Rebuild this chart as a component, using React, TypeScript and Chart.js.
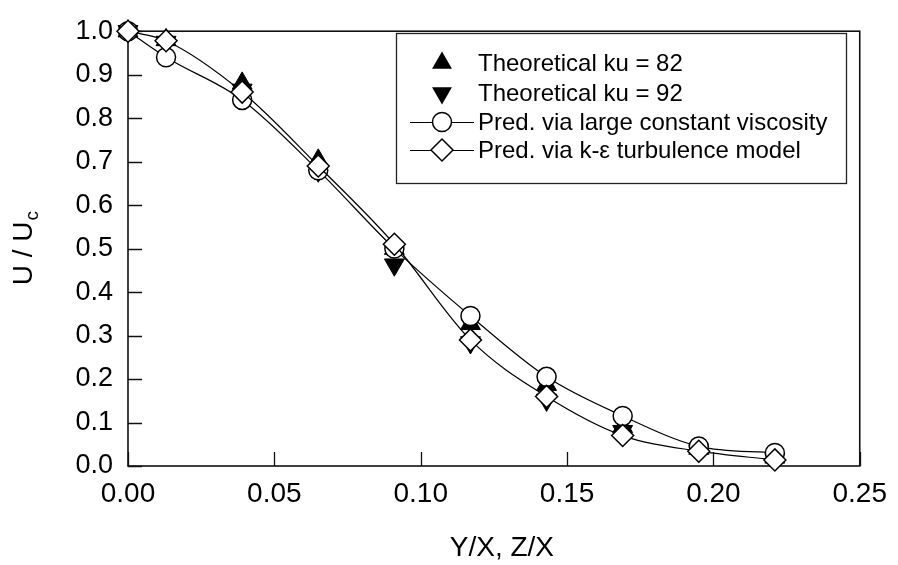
import React, { useEffect, useRef } from 'react';
import { Chart, registerables } from 'chart.js';

Chart.register(...registerables);

// ---- data ----
const xRatio = [0, 0.013, 0.039, 0.065, 0.091, 0.117, 0.143, 0.169, 0.195, 0.221];
const theoKu82 = [1.0, 0.98, 0.88, 0.703, 0.5, 0.327, 0.187, 0.09, 0.04, 0.02];
const theoKu92 = [1.0, 0.975, 0.865, 0.679, 0.463, 0.284, 0.152, 0.08, 0.035, 0.015];
const predConstVisc = [1.0, 0.94, 0.842, 0.68, 0.5, 0.345, 0.205, 0.115, 0.045, 0.03];
const predKEps = [1.0, 0.978, 0.86, 0.69, 0.51, 0.29, 0.16, 0.07, 0.034, 0.014];
const xTicks = [0, 0.05, 0.1, 0.15, 0.2, 0.25];
const yTicks = [0, 0.1, 0.2, 0.3, 0.4, 0.5, 0.6, 0.7, 0.8, 0.9, 1.0];
const seriesLabels = [
  'Theoretical ku = 82',
  'Theoretical ku = 92',
  'Pred. via large constant viscosity',
  'Pred. via k-\u03b5 turbulence model',
];
const xTitle = 'Y/X, Z/X';
const yTitleMain = 'U / U';
const yTitleSub = 'c';

const FONT = "'Liberation Sans', Arial, Helvetica, sans-serif";

const framePlugin = {
  id: 'frameTicks',
  beforeDatasetsDraw(chart: any) {
    const { ctx, chartArea: a, scales } = chart;
    ctx.save();
    ctx.strokeStyle = '#111';
    ctx.lineWidth = 1.3;
    ctx.beginPath();
    for (const v of xTicks) {
      const px = Math.round(scales.x.getPixelForValue(v)) + 0.5;
      ctx.moveTo(px, a.bottom);
      ctx.lineTo(px, a.bottom - 14);
    }
    for (const v of yTicks) {
      const py = Math.round(scales.y.getPixelForValue(v)) + 0.5;
      ctx.moveTo(a.left, py);
      ctx.lineTo(a.left + 14, py);
    }
    ctx.stroke();
    ctx.lineWidth = 1.6;
    ctx.strokeRect(a.left, a.top, a.right - a.left, a.bottom - a.top);
    ctx.restore();
  },
  afterDraw(chart: any) {
    const { ctx, chartArea: a } = chart;
    ctx.save();
    ctx.fillStyle = '#000';
    ctx.font = `28px ${FONT}`;
    ctx.textAlign = 'center';
    ctx.textBaseline = 'middle';
    ctx.fillText(xTitle, (a.left + a.right) / 2 + 8, 548);

    ctx.save();
    ctx.translate(24, (a.top + a.bottom) / 2);
    ctx.rotate(-Math.PI / 2);
    ctx.font = `28px ${FONT}`;
    const wMain = ctx.measureText(yTitleMain).width;
    ctx.font = `19px ${FONT}`;
    const wSub = ctx.measureText(yTitleSub).width;
    const start = -(wMain + wSub) / 2;
    ctx.textAlign = 'left';
    ctx.textBaseline = 'middle';
    ctx.font = `28px ${FONT}`;
    ctx.fillText(yTitleMain, start, 0);
    ctx.font = `19px ${FONT}`;
    ctx.fillText(yTitleSub, start + wMain + 1, 9);
    ctx.restore();

    // legend
    const bx = 396, by = 33, bw = 450, bh = 150;
    ctx.fillStyle = '#fff';
    ctx.fillRect(bx, by, bw, bh);
    ctx.strokeStyle = '#222';
    ctx.lineWidth = 1.3;
    ctx.strokeRect(bx + 0.5, by + 0.5, bw, bh);
    const rows = [63, 93, 122, 150];
    const mx = 442;
    rows.forEach((ry, i) => {
      ctx.save();
      ctx.strokeStyle = '#000';
      ctx.fillStyle = '#000';
      if (i === 0 || i === 1) {
        const r = 11.5;
        const dir = i === 0 ? 1 : -1;
        ctx.beginPath();
        ctx.moveTo(mx, ry - dir * r);
        ctx.lineTo(mx + r * 0.866, ry + dir * r * 0.5);
        ctx.lineTo(mx - r * 0.866, ry + dir * r * 0.5);
        ctx.closePath();
        ctx.fill();
      } else {
        ctx.lineWidth = 1.2;
        ctx.beginPath();
        ctx.moveTo(410, ry + 0.5);
        ctx.lineTo(474, ry + 0.5);
        ctx.stroke();
        ctx.fillStyle = '#fff';
        ctx.lineWidth = 1.5;
        ctx.beginPath();
        if (i === 2) {
          ctx.arc(mx, ry, 9.5, 0, Math.PI * 2);
        } else {
          const r = 11;
          ctx.moveTo(mx - r, ry);
          ctx.lineTo(mx, ry - r);
          ctx.lineTo(mx + r, ry);
          ctx.lineTo(mx, ry + r);
          ctx.closePath();
        }
        ctx.fill();
        ctx.stroke();
      }
      ctx.restore();
      ctx.fillStyle = '#000';
      ctx.font = `24px ${FONT}`;
      ctx.textAlign = 'left';
      ctx.textBaseline = 'middle';
      ctx.fillText(seriesLabels[i], 478, ry + 1);
    });
    ctx.restore();
  },
};

function pts(ys: number[]) {
  return xRatio.map((x, i) => ({ x, y: ys[i] }));
}

export default function App() {
  const ref = useRef<HTMLCanvasElement | null>(null);
  useEffect(() => {
    if (!ref.current) return;
    const chart = new Chart(ref.current, {
      type: 'scatter',
      data: {
        datasets: [
          {
            label: seriesLabels[0],
            data: pts(theoKu82),
            showLine: false,
            pointStyle: 'triangle',
            pointRadius: 11.5,
            pointBackgroundColor: '#000',
            pointBorderColor: '#000',
            pointBorderWidth: 1,
            order: 4,
            clip: false,
          },
          {
            label: seriesLabels[1],
            data: pts(theoKu92),
            showLine: false,
            pointStyle: 'triangle',
            rotation: 180,
            pointRadius: 11.5,
            pointBackgroundColor: '#000',
            pointBorderColor: '#000',
            pointBorderWidth: 1,
            order: 3,
            clip: false,
          },
          {
            label: seriesLabels[2],
            data: pts(predConstVisc),
            showLine: true,
            cubicInterpolationMode: 'monotone',
            borderColor: '#000',
            borderWidth: 1.2,
            pointStyle: 'circle',
            pointRadius: 9.5,
            pointBackgroundColor: '#fff',
            pointBorderColor: '#000',
            pointBorderWidth: 1.5,
            order: 2,
            clip: false,
          },
          {
            label: seriesLabels[3],
            data: pts(predKEps),
            showLine: true,
            cubicInterpolationMode: 'monotone',
            borderColor: '#000',
            borderWidth: 1.2,
            pointStyle: 'rectRot',
            pointRadius: 11,
            pointBackgroundColor: '#fff',
            pointBorderColor: '#000',
            pointBorderWidth: 1.5,
            order: 1,
            clip: false,
          },
        ],
      } as any,
      options: {
        animation: false,
        responsive: true,
        maintainAspectRatio: false,
        layout: { padding: { left: 0, right: 35, top: 23, bottom: 0 } },
        plugins: { legend: { display: false }, tooltip: { enabled: false } },
        scales: {
          x: {
            type: 'linear',
            min: 0,
            max: 0.25,
            afterBuildTicks: (s: any) => {
              s.ticks = xTicks.map((v) => ({ value: v }));
            },
            afterFit: (s: any) => {
              s.height = 99;
            },
            grid: { display: false, drawTicks: false },
            border: { display: false },
            ticks: {
              font: { family: FONT, size: 28 },
              color: '#000',
              padding: 11,
              maxRotation: 0,
              callback: (v: any) => Number(v).toFixed(2),
            },
          },
          y: {
            type: 'linear',
            min: 0,
            max: 1.0,
            afterBuildTicks: (s: any) => {
              s.ticks = yTicks.map((v) => ({ value: v }));
            },
            afterFit: (s: any) => {
              s.width = 128;
            },
            grid: { display: false, drawTicks: false },
            border: { display: false },
            ticks: {
              font: { family: FONT, size: 27 },
              color: '#000',
              padding: 15,
              callback: (v: any) => Number(v).toFixed(1),
            },
          },
        },
      } as any,
      plugins: [framePlugin],
    });
    return () => chart.destroy();
  }, []);

  return (
    <div style={{ position: 'absolute', left: 0, top: 0, width: 898, height: 565, background: '#fff' }}>
      <canvas ref={ref} />
    </div>
  );
}
